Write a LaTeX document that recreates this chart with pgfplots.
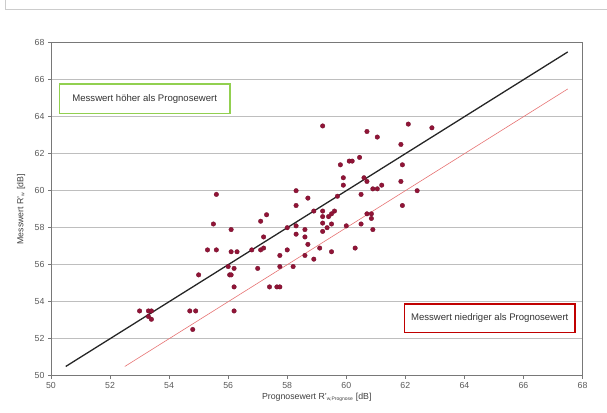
\documentclass[border=0pt]{standalone}
\usepackage{pgfplots}
\pgfplotsset{compat=1.18}
\usepackage{fontspec}
\setmainfont{Liberation Sans}
\definecolor{dotred}{RGB}{145,20,55}
\definecolor{boxgreen}{RGB}{146,208,80}
\definecolor{boxred}{RGB}{192,0,0}
\definecolor{lightred}{RGB}{230,115,115}
\definecolor{ticktext}{RGB}{90,90,90}
\definecolor{gridgray}{RGB}{190,190,190}
\definecolor{framegray}{RGB}{120,120,120}
\begin{document}
\begin{tikzpicture}[x=1bp,y=1bp]
\useasboundingbox (0,0) rectangle (607,412);
\draw[gray!40, line width=0.8bp] (5,412) -- (5,403) -- (607,403);
\begin{axis}[
  at={(51bp,36.3bp)}, anchor=south west,
  scale only axis, width=531.5bp, height=333bp,
  xmin=50, xmax=68, ymin=50, ymax=68,
  xtick={50,52,...,68}, ytick={50,52,...,68},
  ymajorgrids, grid style={gridgray, line width=0.8bp},
  axis line style={framegray, line width=0.7bp},
  tick style={framegray, line width=0.6bp},
  tick align=outside, major tick length=3bp,
  xtick pos=bottom, ytick pos=left,
  /pgf/number format/assume math mode=true,
  ticklabel style={font=\fontsize{8.8}{10}\selectfont, text=ticktext},
  xlabel={Prognosewert R'\textsubscript{\fontsize{5}{6}\selectfont w,Prognose} [dB]},
  ylabel={Messwert R'\textsubscript{\fontsize{5}{6}\selectfont w} [dB]},
  label style={font=\fontsize{8.8}{10}\selectfont, text=black!75},
  xlabel style={at={(axis description cs:0.5,-0.0646)}, anchor=center},
  ylabel style={at={(axis description cs:-0.0564,0.5)}, anchor=center},
  clip=false,
]
\addplot[black!85, line width=1.3bp] coordinates {(50.5,50.5) (67.5,67.5)};
\addplot[lightred, line width=0.6bp] coordinates {(52.5,50.5) (67.5,65.5)};
\addplot[only marks, mark=*, mark size=2.3bp, mark options={fill=dotred, draw=dotred!80!black, line width=0.3bp}] coordinates {
(59.2,63.5) (62.1,63.6) (62.9,63.4) (60.7,63.2) (61.05,62.9) (61.85,62.5)
(61.9,61.4) (59.8,61.4) (60.1,61.6) (60.2,61.6) (60.45,61.8)
(59.9,60.7) (60.6,60.7) (60.7,60.5) (59.9,60.3) (61.85,60.5) (61.2,60.3)
(60.9,60.1) (61.05,60.1) (62.4,60.0) (58.3,60.0) (55.6,59.8)
(58.7,59.6) (59.7,59.7) (60.5,59.8) (58.3,59.2) (61.9,59.2)
(58.9,58.9) (59.2,58.9) (59.6,58.9) (59.5,58.75) (59.4,58.6) (59.2,58.6)
(57.3,58.7) (57.1,58.35) (60.7,58.75) (60.85,58.75) (60.85,58.5)
(55.5,58.2) (59.2,58.25) (59.5,58.2) (58.3,58.1) (58.0,58.0) (60.0,58.1)
(60.5,58.2) (59.35,58.0) (60.9,57.9) (56.1,57.9) (58.6,57.9) (59.2,57.8)
(58.3,57.65) (58.6,57.5) (57.2,57.5) (58.7,57.1) (59.1,56.9) (60.3,56.9)
(58.0,56.8) (57.1,56.8) (57.2,56.9) (56.8,56.8) (56.1,56.7) (56.3,56.7)
(55.3,56.8) (55.6,56.8) (59.5,56.7) (58.6,56.5) (57.75,56.5) (58.9,56.3)
(56.0,55.9) (56.2,55.8) (57.0,55.8) (57.75,55.9) (58.2,55.9)
(56.05,55.45) (56.1,55.45) (55.0,55.45)
(56.2,54.8) (57.4,54.8) (57.65,54.8) (57.75,54.8)
(53.0,53.5) (53.3,53.5) (53.4,53.5) (53.3,53.2) (53.4,53.05)
(54.7,53.5) (54.9,53.5) (56.2,53.5) (54.8,52.5)
};
\end{axis}
\node[draw=boxgreen, line width=1.5bp, fill=white, minimum width=170.7bp, minimum height=29.3bp, inner sep=0pt, font=\fontsize{9.6}{11}\selectfont, text=black!80] at (144.7,313.3) {Messwert höher als Prognosewert};
\node[draw=boxred, line width=1.5bp, fill=white, minimum width=170.7bp, minimum height=28.7bp, inner sep=0pt, font=\fontsize{9.6}{11}\selectfont, text=black!80] at (489.7,93.7) {Messwert niedriger als Prognosewert};
\end{tikzpicture}
\end{document}
